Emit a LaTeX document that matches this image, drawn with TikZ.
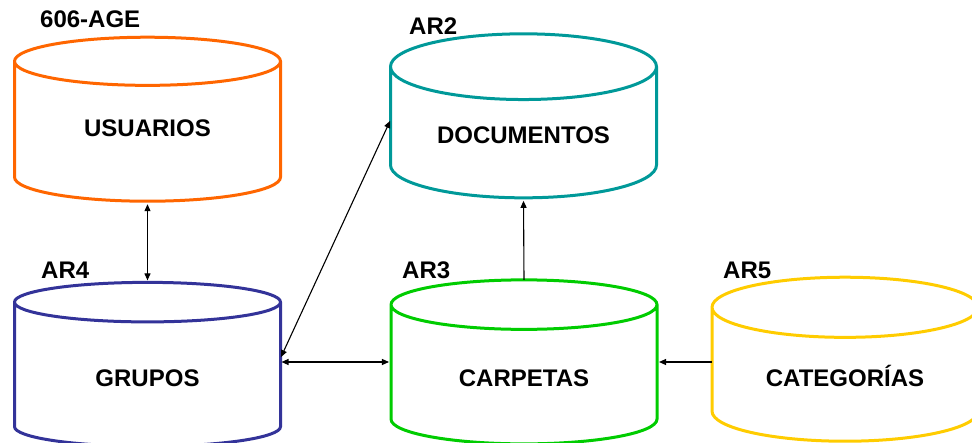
\documentclass[tikz,border=0pt]{standalone}
\usepackage{fontspec}
\setmainfont{Liberation Sans}
\usetikzlibrary{shapes.geometric,arrows.meta}
\definecolor{naranja}{RGB}{255,102,0}
\definecolor{turquesa}{RGB}{0,153,153}
\definecolor{azul}{RGB}{51,51,153}
\definecolor{verde}{RGB}{0,204,0}
\definecolor{amarillo}{RGB}{255,204,0}
\tikzset{
  tabla/.style={cylinder, shape border rotate=90, aspect=0.38, draw, line width=3,
    minimum width=266, minimum height=164, inner sep=0, outer sep=0, text height=23, text depth=0,
    font=\fontsize{24}{28}\selectfont\bfseries},
  etiqueta/.style={anchor=base west, inner sep=0, font=\fontsize{24}{28}\selectfont\bfseries},
  flecha/.style={line width=1.1, -{Triangle[length=7,width=6]}},
  dobleflecha/.style={line width=1.1, {Triangle[length=7,width=6]}-{Triangle[length=7,width=6]}}
}
\begin{document}
\begin{tikzpicture}[x=1pt,y=-1pt]
				\useasboundingbox (0,0) rectangle (972,442);
				\node (usuarios) [tabla, naranja, text height=9] at (147.5,132) {\textcolor{black}{USUARIOS}};
				\node (documentos) [tabla, turquesa, text height=21] at (523.5,133) {\textcolor{black}{DOCUMENTOS}};
				\node (grupos) [tabla, azul] at (147.5,375) {\textcolor{black}{GRUPOS}};
				\node (carpetas) [tabla, verde] at (524,375) {\textcolor{black}{CARPETAS}};
				\node (categorias) [tabla, amarillo] at (845,375) {\textcolor{black}{CATEGORÍAS}};
				\node (tagusuarios) [etiqueta] at (40,27) {606-AGE};
				\node (tagdocumentos) [etiqueta] at (409,34) {AR2};
				\node (taggrupos) [etiqueta] at (41,278) {AR4};
				\node (tagcarpetas) [etiqueta] at (402,278) {AR3};
				\node (tagcategorias) [etiqueta] at (723,278) {AR5};
				% flechas a media altura de los cilindros
				\draw [dobleflecha, shorten <=3, shorten >=2] (usuarios.south) -- (grupos.north);
				\draw [dobleflecha, shorten <=1, shorten >=2] ([yshift=13]grupos.east) -- ([yshift=13]carpetas.west);
				\draw [dobleflecha, shorten <=1, shorten >=1] ([yshift=17]grupos.east) -- ([yshift=13]documentos.west);
				\draw [flecha, shorten >=3] (carpetas.north) -- (documentos.south);
				\draw [flecha, shorten >=2] ([yshift=13]categorias.west) -- ([yshift=13]carpetas.east);
			\end{tikzpicture}
\end{document}
